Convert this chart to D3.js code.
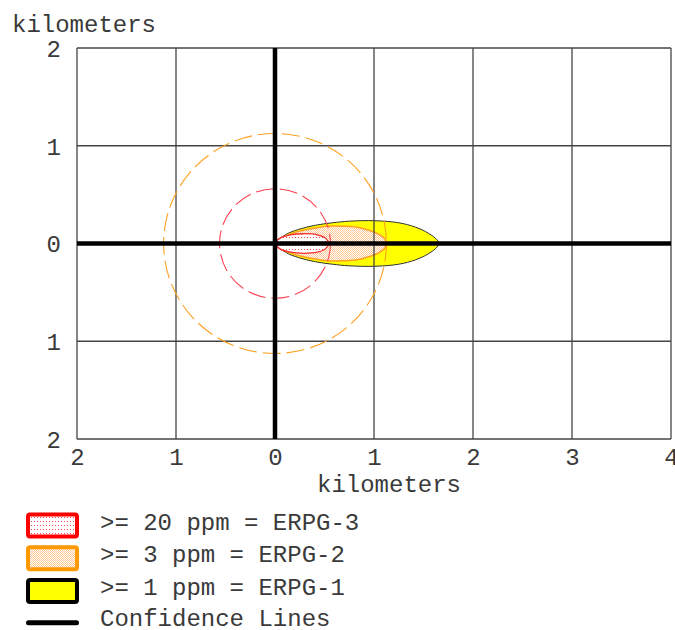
<!DOCTYPE html>
<html><head><meta charset="utf-8">
<script src="https://cdn.jsdelivr.net/npm/d3@7"></script>
<style>body{margin:0;background:#fff}svg{display:block}text{font-family:"Courier New","Nimbus Mono PS","FreeMono","Liberation Mono",monospace;fill:#3a3a3a}</style>
</head><body><svg id="c" width="675" height="630"></svg>
<script>
// ---- data (km) ----
const xTicks = [-2, -1, 0, 1, 2, 3, 4];
const yTicks = [-2, -1, 0, 1, 2];
const axisTitle = "kilometers";

// threat zone footprints: downwind distance and crosswind half-width
const yellowDist = [0, 0.107, 0.24, 0.41, 0.58, 0.745, 1.01, 1.25, 1.42, 1.55, 1.64, 1.655];
const yellowHalf = [0, 0.09, 0.145, 0.187, 0.212, 0.228, 0.233, 0.212, 0.167, 0.105, 0.034, 0];
const orangeDist = [0, 0.09, 0.225, 0.36, 0.527, 0.695, 0.83, 0.964, 1.065, 1.115, 1.13];
const orangeHalf = [0, 0.068, 0.12, 0.15, 0.176, 0.176, 0.166, 0.131, 0.085, 0.039, 0];
const redDist = [0, 0.056, 0.157, 0.29, 0.427, 0.51, 0.54];
const redHalf = [0, 0.058, 0.089, 0.1, 0.089, 0.055, 0];

// dashed circles (radius in km)
const circleNames = ["ERPG-3", "ERPG-2"];
const circleRadii = [0.56, 1.125];

const legendLabels = [">= 20 ppm = ERPG-3", ">= 3 ppm = ERPG-2", ">= 1 ppm = ERPG-1", "Confidence Lines"];

// ---- drawing ----
const svg = d3.select("#c");
const x = d3.scaleLinear().domain([-2, 4]).range([77, 671]);
const y = d3.scaleLinear().domain([-2, 2]).range([439, 48]);

const defs = svg.append("defs");
const pr = defs.append("pattern").attr("id", "pRed").attr("patternUnits", "userSpaceOnUse").attr("width", 3).attr("height", 4);
pr.append("rect").attr("width", 3).attr("height", 4).attr("fill", "#fff");
pr.append("rect").attr("x", 1).attr("y", 1).attr("width", 1).attr("height", 1).attr("fill", "#ff4a4a");
const po = defs.append("pattern").attr("id", "pOrange").attr("patternUnits", "userSpaceOnUse").attr("width", 2).attr("height", 2);
po.append("rect").attr("width", 2).attr("height", 2).attr("fill", "#fff");
po.append("rect").attr("x", 0).attr("y", 0).attr("width", 1).attr("height", 1).attr("fill", "#fdc896");
po.append("rect").attr("x", 1).attr("y", 1).attr("width", 1).attr("height", 1).attr("fill", "#fdc896");

function zonePts(dist, half) {
  const top = dist.map((d, i) => [d, half[i]]);
  const bot = dist.slice(1, -1).map((d, i) => [d, -half[i + 1]]).reverse();
  return top.concat(bot);
}
const zl = d3.line().x(d => x(d[0])).y(d => y(d[1])).curve(d3.curveCatmullRomClosed.alpha(0.5));

const zones = [
  {dist: yellowDist, half: yellowHalf, fill: "#ffff00", stroke: "#333", sw: 1},
  {dist: orangeDist, half: orangeHalf, fill: "url(#pOrange)", stroke: "#ffa020", sw: 1.5},
  {dist: redDist, half: redHalf, fill: "url(#pRed)", stroke: "#ff2a2a", sw: 1.3}
];
svg.append("g").selectAll("path").data(zones).join("path")
  .attr("d", d => zl(zonePts(d.dist, d.half)))
  .attr("fill", d => d.fill).attr("stroke", d => d.stroke).attr("stroke-width", d => d.sw);

// grid
const grid = svg.append("g").attr("stroke", "#444").attr("stroke-width", 1.3);
grid.selectAll(".gx").data(xTicks).join("line")
  .attr("x1", d => x(d)).attr("x2", d => x(d)).attr("y1", y(2)).attr("y2", y(-2));
grid.selectAll(".gy").data(yTicks).join("line")
  .attr("y1", d => y(d)).attr("y2", d => y(d)).attr("x1", x(-2)).attr("x2", x(4));

// circles
svg.append("g").selectAll("ellipse").data(circleRadii).join("ellipse")
  .attr("cx", x(0)).attr("cy", y(0))
  .attr("rx", d => x(d) - x(0)).attr("ry", d => y(0) - y(d))
  .attr("fill", "none")
  .attr("stroke", (d, i) => i === 0 ? "#ff4050" : "#ffa020")
  .attr("stroke-width", 1.1)
  .attr("stroke-dasharray", "18,6");

// confidence / center lines
svg.append("line").attr("x1", x(-2)).attr("x2", x(4)).attr("y1", y(0)).attr("y2", y(0))
  .attr("stroke", "#000").attr("stroke-width", 4.5);
svg.append("line").attr("x1", x(0)).attr("x2", x(0)).attr("y1", y(2)).attr("y2", y(-2))
  .attr("stroke", "#000").attr("stroke-width", 4.5);

// axes labels
const fmt = d => String(Math.abs(d));
const xa = svg.append("g").attr("transform", `translate(0,${y(-2)})`)
  .call(d3.axisBottom(x).tickValues(xTicks).tickFormat(fmt).tickSize(0).tickPadding(0));
xa.select(".domain").remove();
xa.selectAll("text").attr("font-size", 24).attr("font-family", null).attr("dy", null).attr("y", 26).attr("fill", null);
const ya = svg.append("g").attr("transform", `translate(${x(-2)},0)`)
  .call(d3.axisLeft(y).tickValues(yTicks).tickFormat(fmt).tickSize(0).tickPadding(0));
ya.select(".domain").remove();
ya.selectAll("text").attr("font-size", 24).attr("font-family", null).attr("x", -16).attr("dy", "0.35em").attr("fill", null);

svg.append("text").attr("x", 12).attr("y", 31.5).attr("font-size", 24).text(axisTitle);
svg.append("text").attr("x", 317).attr("y", 491.5).attr("font-size", 24).text(axisTitle);

// legend
const lg = svg.append("g");
const boxFill = ["url(#pRed)", "url(#pOrange)", "#ffff00"];
const boxStroke = ["#ff0000", "#ff9900", "#000"];
const rowY = [525.5, 558.3, 591, 622.7];
boxFill.forEach((f, i) => {
  lg.append("rect").attr("x", 28).attr("y", rowY[i] - 11).attr("width", 49).attr("height", 22)
    .attr("rx", 2).attr("fill", f).attr("stroke", boxStroke[i]).attr("stroke-width", 4);
});
lg.append("line").attr("x1", 28.5).attr("x2", 76.5).attr("y1", rowY[3]).attr("y2", rowY[3])
  .attr("stroke", "#000").attr("stroke-width", 5).attr("stroke-linecap", "round");
lg.selectAll("text").data(legendLabels).join("text")
  .attr("x", 100).attr("y", (d, i) => rowY[i] + (i === 3 ? 3.5 : 4))
  .attr("font-size", 24).text(d => d);
</script></body></html>
